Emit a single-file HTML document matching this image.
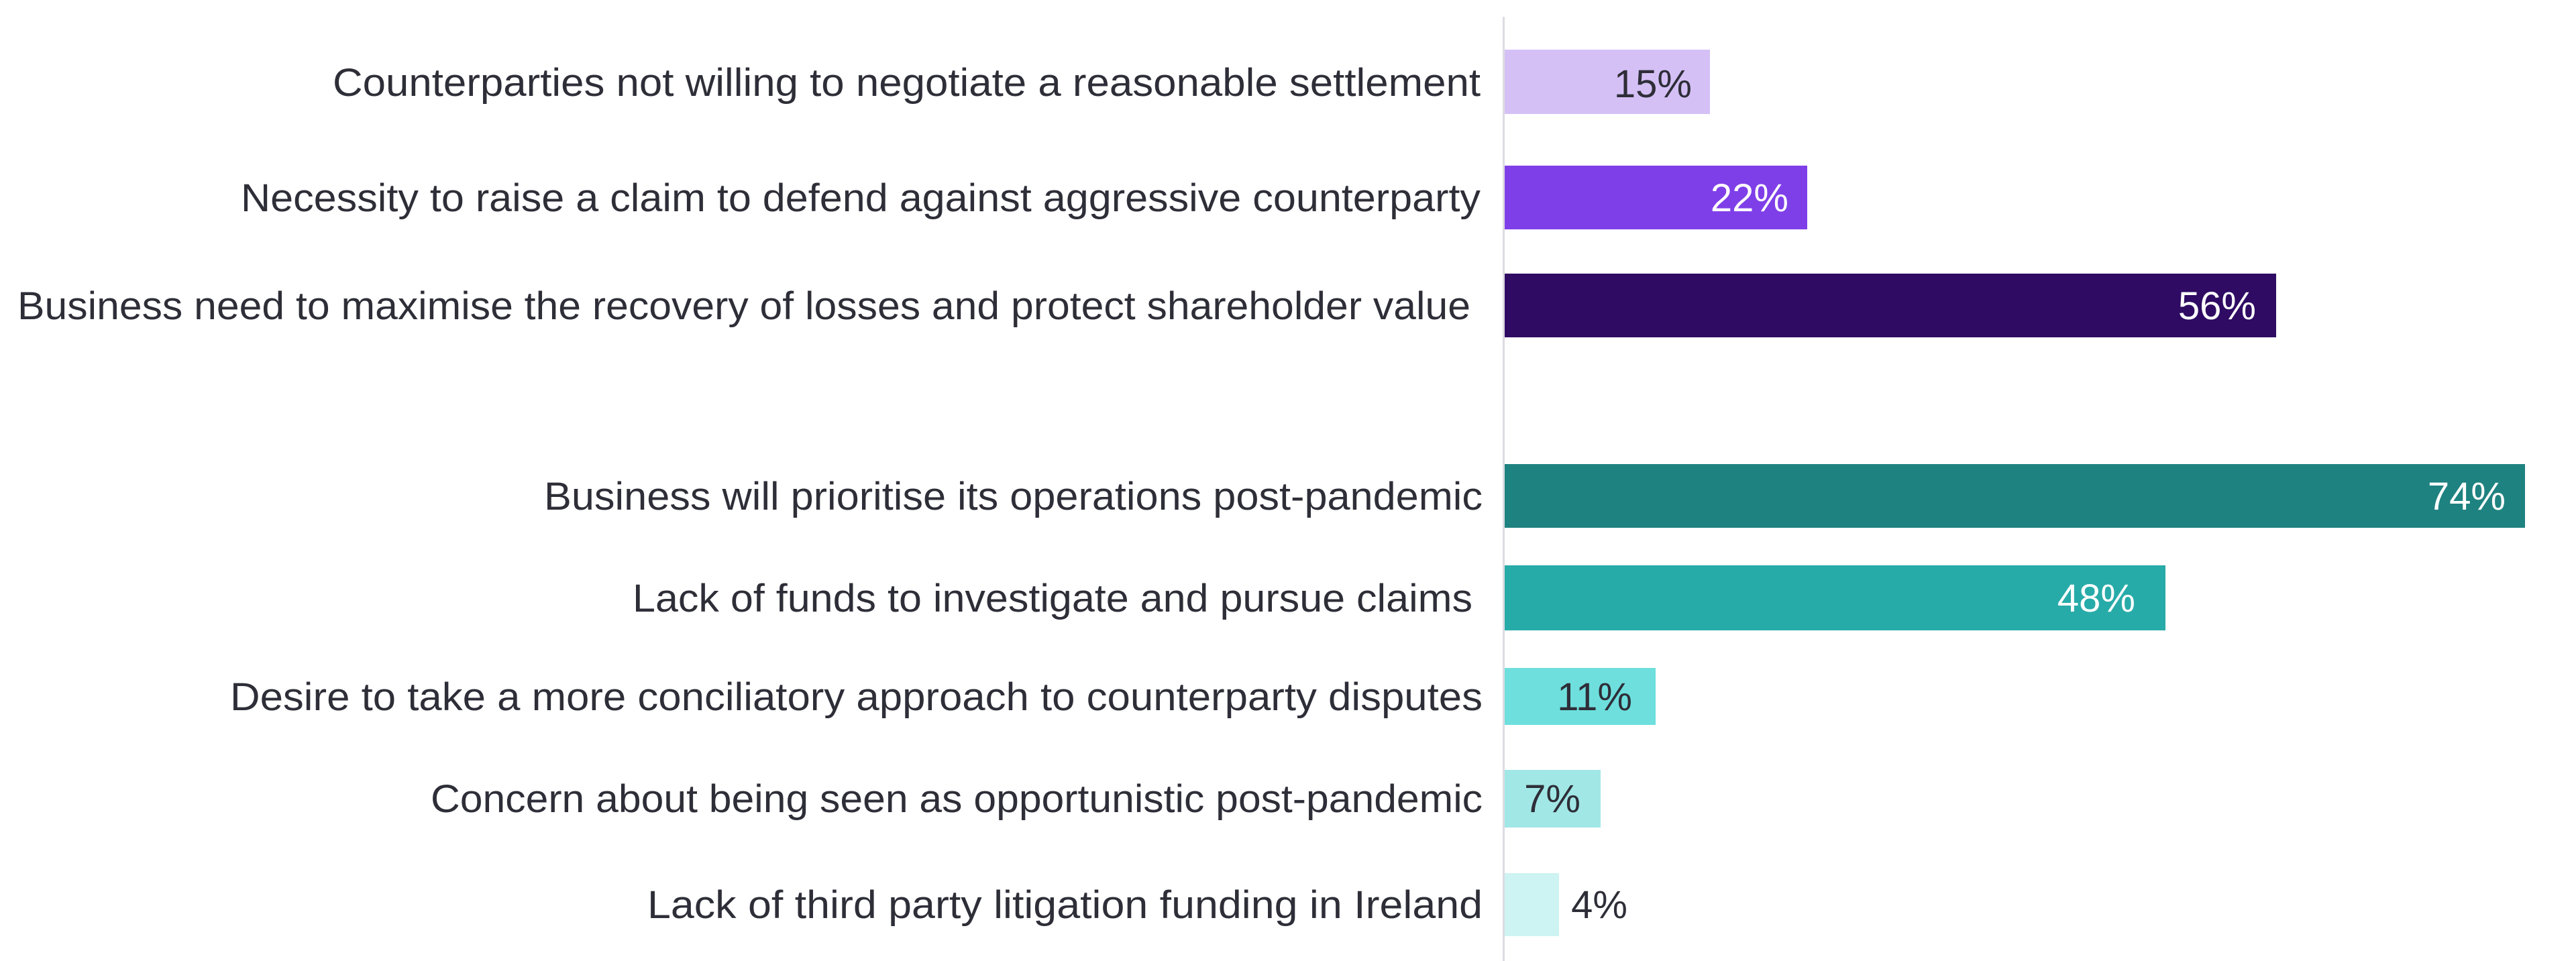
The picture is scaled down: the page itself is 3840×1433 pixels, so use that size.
<!DOCTYPE html>
<html><head><meta charset="utf-8"><style>
html,body{margin:0;padding:0;background:#fff;width:3840px;height:1433px;overflow:hidden}
svg{display:block}
text{font-family:"Liberation Sans",sans-serif;font-size:58px}
.l{fill:#2e2e38;text-anchor:end}
.v{text-anchor:end}
</style></head><body>
<svg width="3840" height="1433" viewBox="0 0 3840 1433">
<rect x="2240" y="25" width="3" height="1408" fill="#dcdce2"/>
<rect x="2243" y="74" width="306" height="96" fill="#d5c0f6"/>
<rect x="2243" y="247" width="451" height="95" fill="#7f3fe8"/>
<rect x="2243" y="408" width="1150" height="95" fill="#2f0b63"/>
<rect x="2243" y="692" width="1521" height="95" fill="#1e8280"/>
<rect x="2243" y="843" width="985" height="97" fill="#27aba9"/>
<rect x="2243" y="996" width="225" height="85" fill="#6edfdd"/>
<rect x="2243" y="1148" width="143" height="86" fill="#a1e7e6"/>
<rect x="2243" y="1302" width="81" height="94" fill="#cdf3f2"/>

<text class="l" x="2207" y="143" textLength="1711" lengthAdjust="spacingAndGlyphs">Counterparties not willing to negotiate a reasonable settlement</text>
<text class="l" x="2207" y="315" textLength="1848" lengthAdjust="spacingAndGlyphs">Necessity to raise a claim to defend against aggressive counterparty</text>
<text class="l" x="2192" y="476" textLength="2166" lengthAdjust="spacingAndGlyphs">Business need to maximise the recovery of losses and protect shareholder value</text>
<text class="l" x="2210" y="760" textLength="1399" lengthAdjust="spacingAndGlyphs">Business will prioritise its operations post-pandemic</text>
<text class="l" x="2195" y="912" textLength="1252" lengthAdjust="spacingAndGlyphs">Lack of funds to investigate and pursue claims</text>
<text class="l" x="2210" y="1059" textLength="1867" lengthAdjust="spacingAndGlyphs">Desire to take a more conciliatory approach to counterparty disputes</text>
<text class="l" x="2210" y="1211" textLength="1568" lengthAdjust="spacingAndGlyphs">Concern about being seen as opportunistic post-pandemic</text>
<text class="l" x="2210" y="1369" textLength="1245" lengthAdjust="spacingAndGlyphs">Lack of third party litigation funding in Ireland</text>

<text class="v" x="2522" y="145" fill="#2e2e38">15%</text>
<text class="v" x="2666" y="315" fill="#fff">22%</text>
<text class="v" x="3363" y="476" fill="#fff">56%</text>
<text class="v" x="3735" y="760" fill="#fff">74%</text>
<text class="v" x="3183" y="912" fill="#fff">48%</text>
<text class="v" x="2433" y="1059" fill="#2e2e38">11%</text>
<text class="v" x="2356" y="1211" fill="#2e2e38">7%</text>
<text class="v" x="2426" y="1369" fill="#2e2e38">4%</text>
</svg>
</body></html>
